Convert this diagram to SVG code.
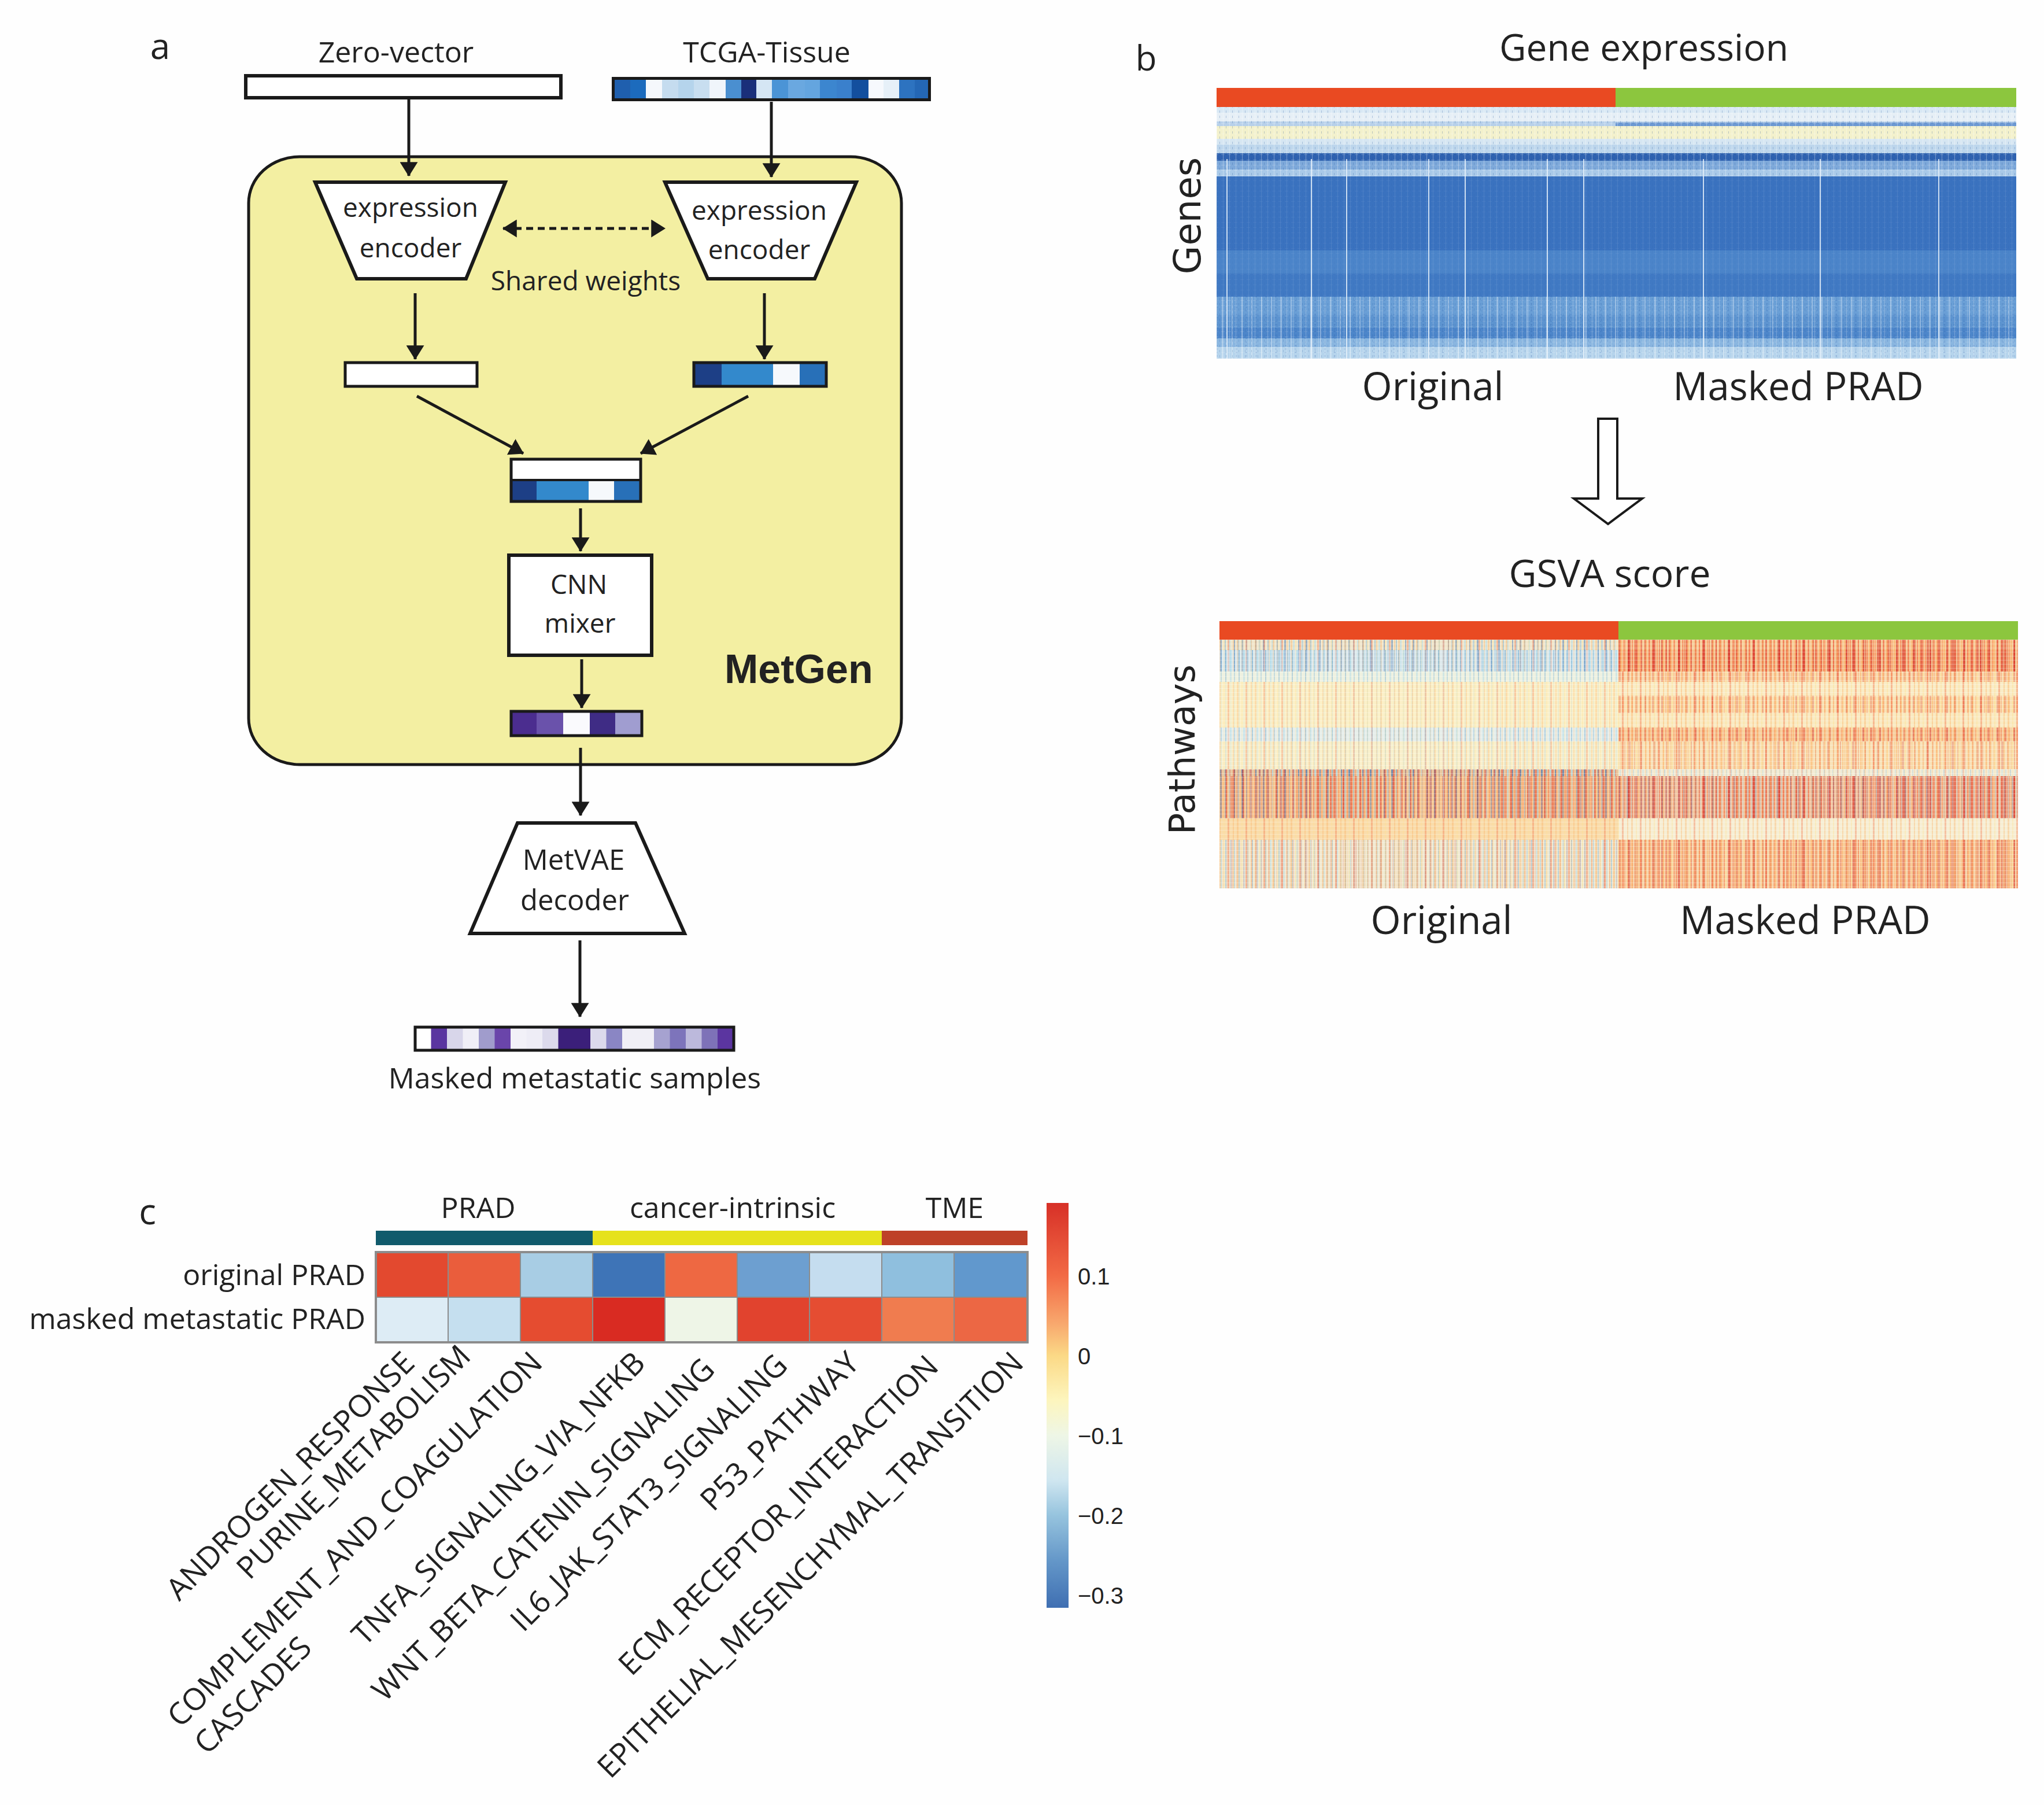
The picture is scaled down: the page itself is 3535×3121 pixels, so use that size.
<svg xmlns="http://www.w3.org/2000/svg" width="3535" height="3121" viewBox="0 0 3535 3121">
<style>
.os{font-family:"Open Sans","Liberation Sans",sans-serif;fill:#222}
.dv{font-family:"DejaVu Sans","Liberation Sans",sans-serif;fill:#222}
.ls{font-family:"Liberation Sans",Arial,sans-serif;fill:#222}
.mid{text-anchor:middle}
.end{text-anchor:end}
.box{fill:#fff;stroke:#1a1a1a;stroke-width:6}
.bord{fill:none;stroke:#1a1a1a;stroke-width:5}
.conn{stroke:#1a1a1a;stroke-width:5;fill:none}
.wl{fill:#e6f1fa;opacity:.85}
.grid{stroke:#8c8c8c;stroke-width:2}
</style>
<defs>
<marker id="ah" markerUnits="userSpaceOnUse" viewBox="0 0 24 30" markerWidth="25" markerHeight="31" refX="23" refY="15" orient="auto-start-reverse"><path d="M0,0 L24,15 L0,30 Z" fill="#1a1a1a"/></marker>
<pattern id="pR" patternUnits="userSpaceOnUse" width="29" height="10"><rect x="2" width="3" height="10" fill="#d73027"/><rect x="9" width="2" height="10" fill="#f46d43"/><rect x="15" width="4" height="10" fill="#e34a33"/><rect x="23" width="2" height="10" fill="#fc8d59"/></pattern>
<pattern id="pR2" patternUnits="userSpaceOnUse" width="43" height="10"><rect x="0" width="2" height="10" fill="#d73027"/><rect x="7" width="3" height="10" fill="#fdae61"/><rect x="14" width="2" height="10" fill="#f46d43"/><rect x="21" width="4" height="10" fill="#d73027"/><rect x="31" width="2" height="10" fill="#e85d3c"/><rect x="37" width="3" height="10" fill="#fdae61"/></pattern>
<pattern id="pB" patternUnits="userSpaceOnUse" width="37" height="10"><rect x="1" width="3" height="10" fill="#4575b4"/><rect x="9" width="2" height="10" fill="#74add1"/><rect x="16" width="3" height="10" fill="#abd9e9"/><rect x="25" width="2" height="10" fill="#4575b4"/><rect x="31" width="3" height="10" fill="#91bfdb"/></pattern>
<pattern id="pB2" patternUnits="userSpaceOnUse" width="23" height="10"><rect x="3" width="2" height="10" fill="#74add1"/><rect x="11" width="3" height="10" fill="#abd9e9"/><rect x="18" width="2" height="10" fill="#91bfdb"/></pattern>
<pattern id="pO" patternUnits="userSpaceOnUse" width="31" height="10"><rect x="0" width="3" height="10" fill="#fdae61"/><rect x="8" width="2" height="10" fill="#fee090"/><rect x="15" width="3" height="10" fill="#f46d43"/><rect x="24" width="2" height="10" fill="#fdae61"/></pattern>
<pattern id="pH" patternUnits="userSpaceOnUse" width="10" height="7"><rect x="0" y="0" width="10" height="1" fill="#fff"/></pattern>
<pattern id="gT" patternUnits="userSpaceOnUse" width="11" height="9"><rect x="3" y="0" width="1" height="9" fill="#fff" opacity=".6"/><rect x="8" y="2" width="1" height="4" fill="#1f4f9a" opacity=".5"/><rect x="0" y="6" width="6" height="1" fill="#fff" opacity=".4"/></pattern>
<pattern id="gT2" patternUnits="userSpaceOnUse" width="17" height="6"><rect x="5" y="0" width="2" height="6" fill="#fff" opacity=".7"/><rect x="12" y="3" width="3" height="1" fill="#2a5aa8" opacity=".6"/></pattern>
<linearGradient id="cb" x1="0" y1="0" x2="0" y2="1">
<stop offset="0" stop-color="#d73027"/><stop offset=".18" stop-color="#f26a45"/><stop offset=".30" stop-color="#f8a96e"/><stop offset=".377" stop-color="#fbd986"/><stop offset=".486" stop-color="#fdf5bd"/><stop offset=".574" stop-color="#eef6e6"/><stop offset=".686" stop-color="#cfe6f0"/><stop offset=".77" stop-color="#97c4de"/><stop offset=".886" stop-color="#6396c8"/><stop offset="1" stop-color="#3f6fb2"/>
</linearGradient>
</defs>
<rect width="3535" height="3121" fill="#fefefe"/>

<!-- Panel a -->
<g id="panel-a">
<text class="os mid" x="277" y="102" font-size="62">a</text>
<rect id="metgen-box" x="430" y="271" width="1129" height="1051" rx="88" ry="80" fill="#f3efa2" stroke="#1a1a1a" stroke-width="5"/>
<text class="ls" x="1253" y="1181" font-size="70" font-weight="bold" fill="#1a1a1a">MetGen</text>
</g>

<g id="zero-vector">
<text class="os mid" x="685" y="108" font-size="50">Zero-vector</text>
<rect x="425" y="131" width="545" height="38" class="box"/>
</g>

<g id="tcga-tissue">
<text class="os mid" x="1326" y="108" font-size="50">TCGA-Tissue</text>
<rect x="1058" y="133" width="32" height="42" fill="#1f5fae"/>
<rect x="1090" y="133" width="27" height="42" fill="#1c6bbd"/>
<rect x="1117" y="133" width="28" height="42" fill="#f5f8fc"/>
<rect x="1145" y="133" width="28" height="42" fill="#c5dcef"/>
<rect x="1173" y="133" width="27" height="42" fill="#b5d4ec"/>
<rect x="1200" y="133" width="27" height="42" fill="#c8def0"/>
<rect x="1227" y="133" width="28" height="42" fill="#f0f5fb"/>
<rect x="1255" y="133" width="27" height="42" fill="#4a8fd0"/>
<rect x="1282" y="133" width="26" height="42" fill="#1a2f7a"/>
<rect x="1308" y="133" width="27" height="42" fill="#d5e6f4"/>
<rect x="1335" y="133" width="28" height="42" fill="#4b94d6"/>
<rect x="1363" y="133" width="29" height="42" fill="#6aa8e0"/>
<rect x="1392" y="133" width="26" height="42" fill="#64a5df"/>
<rect x="1418" y="133" width="29" height="42" fill="#3c86cf"/>
<rect x="1447" y="133" width="26" height="42" fill="#3a80cc"/>
<rect x="1473" y="133" width="29" height="42" fill="#134f9e"/>
<rect x="1502" y="133" width="26" height="42" fill="#f6f9fd"/>
<rect x="1528" y="133" width="27" height="42" fill="#e6f0f8"/>
<rect x="1555" y="133" width="27" height="42" fill="#2d73c0"/>
<rect x="1582" y="133" width="28" height="42" fill="#2467b5"/>
<rect x="1060.5" y="135.5" width="547" height="37" class="bord"/>
</g>

<g id="encoder-left">
<path d="M545,315 L874,315 L806,482 L617,482 Z" class="box"/>
<text class="os mid" x="710" y="375" font-size="46">expression</text>
<text class="os mid" x="710" y="445" font-size="46">encoder</text>
</g>

<g id="encoder-right">
<path d="M1150,315 L1481,315 L1409,482 L1224,482 Z" class="box"/>
<text class="os mid" x="1313" y="380" font-size="46">expression</text>
<text class="os mid" x="1313" y="448" font-size="46">encoder</text>
</g>

<g id="shared-weights">
<text class="os mid" x="1013" y="502" font-size="46">Shared weights</text>
</g>

<g id="latent-left">
<rect x="597" y="627" width="228" height="41" fill="#fff" stroke="#1a1a1a" stroke-width="5"/>
</g>

<g id="latent-right">
<rect x="1200" y="627" width="48" height="41" fill="#1d3f86"/>
<rect x="1248" y="627" width="89" height="41" fill="#3389cc"/>
<rect x="1337" y="627" width="46" height="41" fill="#f6f9fc"/>
<rect x="1383" y="627" width="46" height="41" fill="#2870b8"/>
<rect x="1200" y="627" width="229" height="41" class="bord"/>
</g>

<g id="concat">
<rect x="884" y="794" width="224" height="36" fill="#fff"/>
<rect x="884" y="830" width="44" height="37" fill="#1d3f86"/>
<rect x="928" y="830" width="90" height="37" fill="#3389cc"/>
<rect x="1018" y="830" width="44" height="37" fill="#f6f9fc"/>
<rect x="1062" y="830" width="46" height="37" fill="#2870b8"/>
<rect x="884" y="794" width="224" height="73" class="bord"/>
<line x1="884" y1="830" x2="1108" y2="830" stroke="#1a1a1a" stroke-width="4"/>
</g>

<g id="cnn-mixer">
<rect x="880" y="960" width="247" height="173" class="box" stroke-width="5"/>
<text class="os mid" x="1001" y="1027" font-size="46">CNN</text>
<text class="os mid" x="1003" y="1094" font-size="46">mixer</text>
</g>

<g id="mixed-latent">
<rect x="884" y="1230" width="44" height="42" fill="#4b2d8f"/>
<rect x="928" y="1230" width="46" height="42" fill="#6a52ab"/>
<rect x="974" y="1230" width="46" height="42" fill="#fafafd"/>
<rect x="1020" y="1230" width="44" height="42" fill="#3f2c85"/>
<rect x="1064" y="1230" width="46" height="42" fill="#a09dd0"/>
<rect x="884" y="1230" width="226" height="42" class="bord"/>
</g>

<g id="metvae-decoder">
<path d="M895,1423 L1099,1423 L1184,1614 L813,1614 Z" class="box"/>
<text class="os mid" x="992" y="1504" font-size="49">MetVAE</text>
<text class="os mid" x="994" y="1574" font-size="49">decoder</text>
</g>

<g id="masked-samples">
<rect x="718" y="1776" width="28" height="40" fill="#ffffff"/>
<rect x="745.5" y="1776" width="28" height="40" fill="#5a35a0"/>
<rect x="773" y="1776" width="28" height="40" fill="#d8d6ea"/>
<rect x="800.5" y="1776" width="28" height="40" fill="#f0eff7"/>
<rect x="828" y="1776" width="28" height="40" fill="#a09ccc"/>
<rect x="855.5" y="1776" width="28" height="40" fill="#6a45aa"/>
<rect x="883" y="1776" width="28" height="40" fill="#f2f1f8"/>
<rect x="910.5" y="1776" width="28" height="40" fill="#eeedf6"/>
<rect x="938" y="1776" width="28" height="40" fill="#dcdaec"/>
<rect x="965.5" y="1776" width="56" height="40" fill="#3b1f7a"/>
<rect x="1021" y="1776" width="28" height="40" fill="#dcdaec"/>
<rect x="1048.5" y="1776" width="28" height="40" fill="#8a86c4"/>
<rect x="1076" y="1776" width="56" height="40" fill="#f0eff6"/>
<rect x="1131" y="1776" width="28" height="40" fill="#a6a2d0"/>
<rect x="1158.5" y="1776" width="28" height="40" fill="#7d74bb"/>
<rect x="1186" y="1776" width="28" height="40" fill="#bcb9dc"/>
<rect x="1213.5" y="1776" width="28" height="40" fill="#7e72b8"/>
<rect x="1241" y="1776" width="28" height="40" fill="#5b35a0"/>
<rect x="718" y="1776" width="551" height="40" class="bord"/>
<text class="os mid" x="994" y="1882" font-size="50">Masked metastatic samples</text>
</g>

<g id="connectors">
<line x1="707" y1="172" x2="707" y2="304" class="conn" marker-end="url(#ah)"/>
<line x1="1334" y1="176" x2="1334" y2="306" class="conn" marker-end="url(#ah)"/>
<line x1="870" y1="395" x2="1150" y2="395" class="conn" stroke-width="6" stroke-dasharray="12 8" marker-start="url(#ah)" marker-end="url(#ah)"/>
<line x1="718" y1="507" x2="718" y2="621" class="conn" marker-end="url(#ah)"/>
<line x1="1322" y1="507" x2="1322" y2="621" class="conn" marker-end="url(#ah)"/>
<line x1="721" y1="685" x2="905" y2="784" class="conn" marker-end="url(#ah)"/>
<line x1="1294" y1="685" x2="1108" y2="784" class="conn" marker-end="url(#ah)"/>
<line x1="1004" y1="879" x2="1004" y2="953" class="conn" marker-end="url(#ah)"/>
<line x1="1006" y1="1140" x2="1006" y2="1224" class="conn" marker-end="url(#ah)"/>
<line x1="1004" y1="1293" x2="1004" y2="1410" class="conn" marker-end="url(#ah)"/>
<line x1="1003" y1="1626" x2="1003" y2="1758" class="conn" marker-end="url(#ah)"/>
<path d="M2764,724 L2797,724 L2797,862 L2840,862 L2781,906 L2722,862 L2764,862 Z" fill="#fff" stroke="#1a1a1a" stroke-width="4" stroke-linejoin="miter"/>
</g>

<!-- Panel b -->
<g id="panel-b-labels">
<text class="os mid" x="1982" y="122" font-size="60">b</text>
<text class="os mid" x="2843" y="105" font-size="64">Gene expression</text>
<text class="dv mid" font-size="64" transform="translate(2076,373) rotate(-90)">Genes</text>
<text class="os mid" x="2478" y="692" font-size="67">Original</text>
<text class="os mid" x="3110" y="692" font-size="67">Masked PRAD</text>
<text class="os mid" x="2784" y="1015" font-size="66">GSVA score</text>
<text class="dv mid" font-size="62" transform="translate(2066,1296) rotate(-90)">Pathways</text>
<text class="os mid" x="2493" y="1615" font-size="67">Original</text>
<text class="os mid" x="3122" y="1615" font-size="67">Masked PRAD</text>
</g>

<g id="heatmap-genes">
<rect x="2104" y="152" width="690" height="33" fill="#e94a22"/>
<rect x="2794" y="152" width="693" height="33" fill="#8cc63e"/>
<rect x="2104" y="185" width="1383" height="10" fill="#d9e8f4"/>
<rect x="2104" y="195" width="1383" height="15" fill="#e6eff6"/>
<rect x="2104" y="210" width="1383" height="8" fill="#b7d0ea"/>
<rect x="2794" y="212" width="693" height="6" fill="#6c98d2"/>
<rect x="2104" y="218" width="1383" height="22" fill="#f3f1cc"/>
<rect x="2104" y="240" width="1383" height="10" fill="#d6e6f2"/>
<rect x="2104" y="250" width="1383" height="15" fill="#bdd6ec"/>
<rect x="2104" y="265" width="1383" height="13" fill="#2f62b0"/>
<rect x="2104" y="278" width="1383" height="15" fill="#7ea9da"/>
<rect x="2104" y="293" width="1383" height="12" fill="#a9c9e8"/>
<rect x="2104" y="305" width="1383" height="128" fill="#3a72bf"/>
<rect x="2104" y="433" width="1383" height="40" fill="#4b84c9"/>
<rect x="2104" y="473" width="1383" height="40" fill="#4079c3"/>
<rect x="2104" y="513" width="1383" height="32" fill="#6a9fd6"/>
<rect x="2104" y="545" width="1383" height="22" fill="#5d94d0"/>
<rect x="2104" y="567" width="1383" height="18" fill="#4d86ca"/>
<rect x="2104" y="585" width="1383" height="15" fill="#8ab6e0"/>
<rect x="2104" y="600" width="1383" height="20" fill="#b6d4ec"/>
<rect x="2104" y="185" width="1383" height="120" fill="url(#gT)" opacity=".55"/>
<rect x="2104" y="305" width="1383" height="208" fill="url(#gT)" opacity=".15"/>
<rect x="2104" y="513" width="1383" height="107" fill="url(#gT2)" opacity=".45"/>
<rect x="2104" y="513" width="1383" height="107" fill="url(#gT)" opacity=".4"/>
<rect x="2121" y="275" width="2" height="345" class="wl"/>
<rect x="2267" y="275" width="2" height="345" class="wl"/>
<rect x="2328" y="275" width="2" height="345" class="wl"/>
<rect x="2470" y="275" width="2" height="345" class="wl"/>
<rect x="2533" y="275" width="2" height="345" class="wl"/>
<rect x="2675" y="275" width="2" height="345" class="wl"/>
<rect x="2738" y="275" width="2" height="345" class="wl"/>
<rect x="2945" y="275" width="2" height="345" class="wl"/>
<rect x="3147" y="275" width="2" height="345" class="wl"/>
<rect x="3352" y="275" width="2" height="345" class="wl"/>
</g>

<g id="heatmap-gsva">
<rect x="2109" y="1074" width="690" height="32" fill="#e94a22"/>
<rect x="2799" y="1074" width="691" height="32" fill="#8cc63e"/>
<!-- left half -->
<rect x="2109" y="1106" width="690" height="18" fill="#f0e6cc"/>
<rect x="2109" y="1106" width="690" height="18" fill="url(#pB)" opacity=".5"/>
<rect x="2109" y="1106" width="690" height="18" fill="url(#pO)" opacity=".4"/>
<rect x="2109" y="1124" width="690" height="37" fill="#dde9ec"/>
<rect x="2109" y="1124" width="690" height="37" fill="url(#pB2)" opacity=".7"/>
<rect x="2109" y="1124" width="690" height="37" fill="url(#pB)" opacity=".35"/>
<rect x="2109" y="1124" width="690" height="37" fill="url(#pO)" opacity=".2"/>
<rect x="2109" y="1161" width="690" height="18" fill="#eef1e0"/>
<rect x="2109" y="1161" width="690" height="18" fill="url(#pB2)" opacity=".45"/>
<rect x="2109" y="1179" width="690" height="79" fill="#fbf0c8"/>
<rect x="2109" y="1179" width="690" height="79" fill="url(#pO)" opacity=".3"/>
<rect x="2109" y="1179" width="690" height="79" fill="url(#pB2)" opacity=".12"/>
<rect x="2109" y="1258" width="690" height="24" fill="#e6eeea"/>
<rect x="2109" y="1258" width="690" height="24" fill="url(#pB2)" opacity=".5"/>
<rect x="2109" y="1258" width="690" height="24" fill="url(#pO)" opacity=".2"/>
<rect x="2109" y="1282" width="690" height="48" fill="#f9f0cc"/>
<rect x="2109" y="1282" width="690" height="48" fill="url(#pO)" opacity=".3"/>
<rect x="2109" y="1282" width="690" height="48" fill="url(#pB2)" opacity=".2"/>
<rect x="2109" y="1330" width="690" height="12" fill="#e8c8a0"/>
<rect x="2109" y="1330" width="690" height="12" fill="url(#pB)" opacity=".7"/>
<rect x="2109" y="1330" width="690" height="12" fill="url(#pR)" opacity=".5"/>
<rect x="2109" y="1342" width="690" height="73" fill="#f6c995"/>
<rect x="2109" y="1342" width="690" height="73" fill="url(#pR)" opacity=".55"/>
<rect x="2109" y="1342" width="690" height="73" fill="url(#pB)" opacity=".45"/>
<rect x="2109" y="1342" width="690" height="73" fill="url(#pR2)" opacity=".3"/>
<rect x="2109" y="1415" width="690" height="37" fill="#f9dcab"/>
<rect x="2109" y="1415" width="690" height="37" fill="url(#pO)" opacity=".35"/>
<rect x="2109" y="1452" width="690" height="84" fill="#f1ead2"/>
<rect x="2109" y="1452" width="690" height="84" fill="url(#pB2)" opacity=".45"/>
<rect x="2109" y="1452" width="690" height="84" fill="url(#pO)" opacity=".45"/>
<rect x="2109" y="1452" width="690" height="84" fill="url(#pR2)" opacity=".15"/>
<!-- right half -->
<rect x="2799" y="1106" width="691" height="18" fill="#f6cf9c"/>
<rect x="2799" y="1106" width="691" height="18" fill="url(#pR)" opacity=".6"/>
<rect x="2799" y="1106" width="691" height="18" fill="url(#pR2)" opacity=".5"/>
<rect x="2799" y="1124" width="691" height="37" fill="#f4c290"/>
<rect x="2799" y="1124" width="691" height="37" fill="url(#pR)" opacity=".75"/>
<rect x="2799" y="1124" width="691" height="37" fill="url(#pR2)" opacity=".55"/>
<rect x="2799" y="1161" width="691" height="18" fill="#f8dbb0"/>
<rect x="2799" y="1161" width="691" height="18" fill="url(#pO)" opacity=".6"/>
<rect x="2799" y="1161" width="691" height="18" fill="url(#pR)" opacity=".3"/>
<rect x="2799" y="1179" width="691" height="24" fill="#f9ecc6"/>
<rect x="2799" y="1179" width="691" height="24" fill="url(#pO)" opacity=".4"/>
<rect x="2799" y="1203" width="691" height="30" fill="#f9e2b4"/>
<rect x="2799" y="1203" width="691" height="30" fill="url(#pO)" opacity=".6"/>
<rect x="2799" y="1203" width="691" height="30" fill="url(#pR)" opacity=".3"/>
<rect x="2799" y="1233" width="691" height="25" fill="#f9eac2"/>
<rect x="2799" y="1233" width="691" height="25" fill="url(#pO)" opacity=".4"/>
<rect x="2799" y="1258" width="691" height="24" fill="#f6d0a0"/>
<rect x="2799" y="1258" width="691" height="24" fill="url(#pR)" opacity=".5"/>
<rect x="2799" y="1258" width="691" height="24" fill="url(#pO)" opacity=".5"/>
<rect x="2799" y="1282" width="691" height="48" fill="#f8e3ba"/>
<rect x="2799" y="1282" width="691" height="48" fill="url(#pO)" opacity=".5"/>
<rect x="2799" y="1282" width="691" height="48" fill="url(#pR2)" opacity=".25"/>
<rect x="2799" y="1330" width="691" height="12" fill="#f2ecd6"/>
<rect x="2799" y="1330" width="691" height="12" fill="url(#pB2)" opacity=".3"/>
<rect x="2799" y="1330" width="691" height="12" fill="url(#pO)" opacity=".25"/>
<rect x="2799" y="1342" width="691" height="73" fill="#f2c7a4"/>
<rect x="2799" y="1342" width="691" height="73" fill="url(#pR)" opacity=".65"/>
<rect x="2799" y="1342" width="691" height="73" fill="url(#pR2)" opacity=".45"/>
<rect x="2799" y="1342" width="691" height="73" fill="url(#pB)" opacity=".25"/>
<rect x="2799" y="1415" width="691" height="37" fill="#f6eed4"/>
<rect x="2799" y="1415" width="691" height="37" fill="url(#pO)" opacity=".35"/>
<rect x="2799" y="1452" width="691" height="84" fill="#f6d6aa"/>
<rect x="2799" y="1452" width="691" height="84" fill="url(#pR)" opacity=".45"/>
<rect x="2799" y="1452" width="691" height="84" fill="url(#pO)" opacity=".5"/>
<rect x="2799" y="1452" width="691" height="84" fill="url(#pR2)" opacity=".3"/>
<rect x="2109" y="1106" width="1381" height="430" fill="url(#pH)" opacity=".3"/>
</g>

<!-- Panel c -->
<g id="panel-c-labels">
<text class="os mid" x="255" y="2117" font-size="62">c</text>
<text class="os mid" x="827" y="2106" font-size="50">PRAD</text>
<text class="os mid" x="1267" y="2106" font-size="50">cancer-intrinsic</text>
<text class="os mid" x="1651" y="2106" font-size="50">TME</text>
<text class="os end" x="632" y="2222" font-size="50">original PRAD</text>
<text class="os end" x="632" y="2298" font-size="50">masked metastatic PRAD</text>
</g>

<g id="category-bar">
<rect x="650" y="2128" width="375" height="25" fill="#115b6c"/>
<rect x="1025" y="2128" width="500" height="25" fill="#e6e21c"/>
<rect x="1525" y="2128" width="252" height="25" fill="#be4128"/>
</g>

<g id="heatmap-c">
<rect x="650" y="2165" width="125" height="78" fill="#e3492f"/>
<rect x="775" y="2165" width="125" height="78" fill="#ea5d3c"/>
<rect x="900" y="2165" width="125" height="78" fill="#a8cde4"/>
<rect x="1025" y="2165" width="125" height="78" fill="#3e74b7"/>
<rect x="1150" y="2165" width="125" height="78" fill="#ee6842"/>
<rect x="1275" y="2165" width="125" height="78" fill="#6d9fd0"/>
<rect x="1400" y="2165" width="125" height="78" fill="#c5ddef"/>
<rect x="1525" y="2165" width="125" height="78" fill="#8fbfde"/>
<rect x="1650" y="2165" width="127" height="78" fill="#6198cd"/>
<rect x="650" y="2243" width="125" height="78" fill="#ddecf5"/>
<rect x="775" y="2243" width="125" height="78" fill="#c5dfef"/>
<rect x="900" y="2243" width="125" height="78" fill="#e54c30"/>
<rect x="1025" y="2243" width="125" height="78" fill="#d92b22"/>
<rect x="1150" y="2243" width="125" height="78" fill="#eef5e7"/>
<rect x="1275" y="2243" width="125" height="78" fill="#e1432e"/>
<rect x="1400" y="2243" width="125" height="78" fill="#e54d32"/>
<rect x="1525" y="2243" width="125" height="78" fill="#f07c4f"/>
<rect x="1650" y="2243" width="127" height="78" fill="#ec6744"/>
<g class="grid">
<line x1="775" y1="2165" x2="775" y2="2321"/><line x1="900" y1="2165" x2="900" y2="2321"/><line x1="1025" y1="2165" x2="1025" y2="2321"/><line x1="1150" y1="2165" x2="1150" y2="2321"/><line x1="1275" y1="2165" x2="1275" y2="2321"/><line x1="1400" y1="2165" x2="1400" y2="2321"/><line x1="1525" y1="2165" x2="1525" y2="2321"/><line x1="1650" y1="2165" x2="1650" y2="2321"/>
<line x1="650" y1="2243" x2="1777" y2="2243"/>
</g>
<rect x="650" y="2165" width="1127" height="156" fill="none" stroke="#8c8c8c" stroke-width="4"/>
</g>

<g id="column-labels" class="os" font-size="53">
<text class="end" transform="translate(720,2360) rotate(-45)">ANDROGEN_RESPONSE</text>
<text class="end" transform="translate(817,2348) rotate(-45)">PURINE_METABOLISM</text>
<g transform="translate(941,2360) rotate(-45)">
<text class="end" textLength="890" lengthAdjust="spacingAndGlyphs">COMPLEMENT_AND_COAGULATION</text>
<text x="-890" y="66">CASCADES</text>
</g>
<text class="end" transform="translate(1119,2360) rotate(-45)">TNFA_SIGNALING_VIA_NFKB</text>
<text class="end" transform="translate(1239,2371) rotate(-45)">WNT_BETA_CATENIN_SIGNALING</text>
<text class="end" transform="translate(1365,2364) rotate(-45)">IL6_JAK_STAT3_SIGNALING</text>
<text class="end" transform="translate(1489,2360) rotate(-45)">P53_PATHWAY</text>
<text class="end" transform="translate(1626,2366) rotate(-45)">ECM_RECEPTOR_INTERACTION</text>
<text class="end" transform="translate(1773,2360) rotate(-45)">EPITHELIAL_MESENCHYMAL_TRANSITION</text>
</g>

<g id="colorbar">
<rect x="1810" y="2080" width="38" height="700" fill="url(#cb)"/>
<text class="ls" x="1864" y="2221" font-size="40">0.1</text>
<text class="ls" x="1864" y="2359" font-size="40">0</text>
<text class="ls" x="1864" y="2497" font-size="40">−0.1</text>
<text class="ls" x="1864" y="2635" font-size="40">−0.2</text>
<text class="ls" x="1864" y="2773" font-size="40">−0.3</text>
</g>
</svg>
